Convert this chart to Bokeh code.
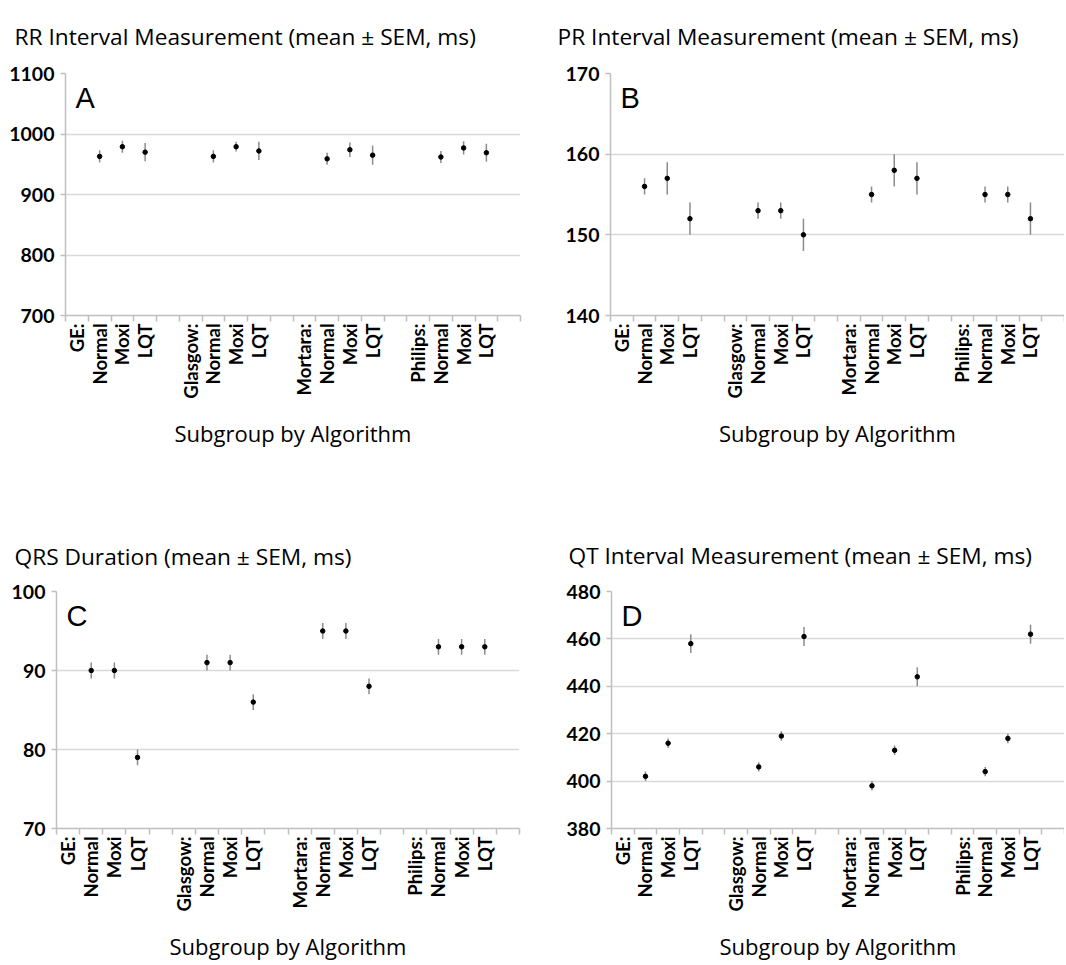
import math
from bokeh.plotting import figure
from bokeh.models import FixedTicker, Label, Range1d, ColumnDataSource
from bokeh.layouts import column, row
from bokeh.embed import file_html
from bokeh.resources import INLINE

# ---- data ----
categories = ["GE:", "Normal", "Moxi", "LQT", "",
              "Glasgow:", "Normal", "Moxi", "LQT", "",
              "Mortara:", "Normal", "Moxi", "LQT", "",
              "Philips:", "Normal", "Moxi", "LQT", ""]
subgroups = ("Normal", "Moxi", "LQT")

rr_mean = [963, 979, 970, 963, 979, 972, 959, 974, 965, 962, 977, 969]
rr_sem = [10, 10, 15, 10, 8, 15, 10, 12, 16, 10, 11, 15]

pr_mean = [156, 157, 152, 153, 153, 150, 155, 158, 157, 155, 155, 152]
pr_sem = [1, 2, 2, 1, 1, 2, 1, 2, 2, 1, 1, 2]

qrs_mean = [90, 90, 79, 91, 91, 86, 95, 95, 88, 93, 93, 93]
qrs_sem = [1, 1, 1, 1, 1, 1, 1, 1, 1, 1, 1, 1]

qt_mean = [402, 416, 458, 406, 419, 461, 398, 413, 444, 404, 418, 462]
qt_sem = [2, 2, 4, 2, 2, 4, 2, 2, 4, 2, 2, 4]

titles = ["RR Interval Measurement (mean \u00b1 SEM, ms)",
          "PR Interval Measurement (mean \u00b1 SEM, ms)",
          "QRS Duration (mean \u00b1 SEM, ms)",
          "QT Interval Measurement (mean \u00b1 SEM, ms)"]
letters = ["A", "B", "C", "D"]
y_limits = [(700, 1100), (140, 170), (70, 100), (380, 480)]
y_steps = [100, 10, 10, 20]
x_title = "Subgroup by Algorithm"

TICK_FONT = "Lato"
TEXT_FONT = "Open Sans"
GRID = "#d9d9d9"
AXIS = "#bfbfbf"


def make_panel(idx, mean, sem, width, height, bl, br, bt, bb, title_dx, standoff):
    ylo, yhi = y_limits[idx]
    p = figure(width=width, height=height, output_backend="svg", toolbar_location=None,
               x_range=Range1d(-0.5, len(categories) - 0.5), y_range=Range1d(ylo, yhi),
               min_border_left=bl, min_border_right=br, min_border_top=bt, min_border_bottom=bb)
    p.outline_line_color = None
    p.background_fill_color = "white"
    p.border_fill_color = "white"

    p.title.text = titles[idx]
    p.title.text_font = TEXT_FONT
    p.title.text_font_size = "22.7px"
    p.title.text_font_style = "normal"
    p.title.text_color = "black"
    p.title.align = "left"
    p.title.offset = title_dx
    p.title.standoff = standoff
    p.title.vertical_align = "top"

    # x axis: labels at category centres, ticks at category boundaries
    xt = FixedTicker(ticks=list(range(len(categories))),
                     minor_ticks=[i - 0.5 for i in range(len(categories) + 1)])
    p.xaxis.ticker = xt
    p.xaxis.major_label_overrides = {i: c for i, c in enumerate(categories)}
    p.xaxis.major_label_orientation = math.pi / 2
    p.xaxis.major_tick_line_color = None
    p.xaxis.major_tick_out = 6
    p.xaxis.minor_tick_line_color = AXIS
    p.xaxis.minor_tick_line_width = 1.5
    p.xaxis.minor_tick_out = 6
    p.xaxis.minor_tick_in = 0
    p.xaxis.major_label_standoff = 2
    p.xaxis.major_label_text_font = TICK_FONT
    p.xaxis.major_label_text_font_size = "18.5px"
    p.xaxis.major_label_text_font_style = "bold"
    p.xaxis.major_label_text_color = "black"
    p.xaxis.axis_line_color = AXIS
    p.xaxis.axis_line_width = 1.5
    p.xaxis.axis_label = x_title
    p.xaxis.axis_label_text_font = TEXT_FONT
    p.xaxis.axis_label_text_font_size = "22px"
    p.xaxis.axis_label_text_font_style = "normal"
    p.xaxis.axis_label_text_color = "black"
    p.xaxis.axis_label_standoff = 16

    yt = FixedTicker(ticks=list(range(ylo, yhi + 1, y_steps[idx])))
    p.yaxis.ticker = yt
    p.yaxis.minor_tick_line_color = None
    p.yaxis.major_tick_line_color = AXIS
    p.yaxis.major_tick_line_width = 1.5
    p.yaxis.major_tick_out = 5
    p.yaxis.major_tick_in = 0
    p.yaxis.major_label_standoff = 6
    p.yaxis.major_label_text_font = TICK_FONT
    p.yaxis.major_label_text_font_size = "19.5px"
    p.yaxis.major_label_text_font_style = "bold"
    p.yaxis.major_label_text_color = "black"
    p.yaxis.axis_line_color = AXIS
    p.yaxis.axis_line_width = 1.5

    p.xgrid.visible = False
    p.ygrid.ticker = yt
    p.ygrid.grid_line_color = GRID
    p.ygrid.grid_line_width = 1.5

    xs = [i for i, c in enumerate(categories) if c in subgroups]
    src = ColumnDataSource(dict(x=xs, y=mean,
                                lo=[m - s for m, s in zip(mean, sem)],
                                hi=[m + s for m, s in zip(mean, sem)]))
    p.segment(x0="x", y0="lo", x1="x", y1="hi", source=src, line_color="#8c8c8c", line_width=1.5)
    p.scatter(x="x", y="y", source=src, size=4.5, fill_color="black", line_color="black")

    p.add_layout(Label(x=-0.5, y=yhi, x_offset=10, y_offset=-8, text=letters[idx],
                       text_font="Liberation Sans", text_font_size="29px",
                       text_baseline="top", text_align="left", text_color="black"))
    return p


pA = make_panel(0, rr_mean, rr_sem, 545, 520, 65, 25, 73, 205, -51, 39)
pB = make_panel(1, pr_mean, pr_sem, 519, 520, 65, 0, 73, 205, -53, 39)
pC = make_panel(2, qrs_mean, qrs_sem, 545, 443, 56, 26, 70, 132, -42, 36)
pD = make_panel(3, qt_mean, qt_sem, 519, 443, 66, 0, 71, 132, -43, 37)

layout = column(row(pA, pB), row(pC, pD))

with open("out.html", "w") as f:
    f.write(file_html(layout, INLINE))
